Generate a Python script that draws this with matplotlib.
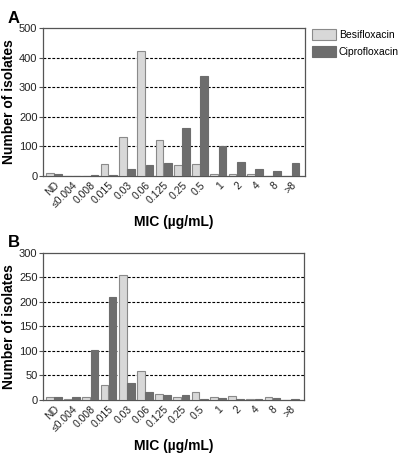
import matplotlib
matplotlib.use("Agg")
import matplotlib.pyplot as plt
import numpy as np

categories = ["ND", "≤0.004", "0.008", "0.015", "0.03", "0.06", "0.125",
              "0.25", "0.5", "1", "2", "4", "8", ">8"]
besi_A = [10, 0, 0, 41, 133, 422, 122, 38, 41, 7, 7, 6, 1, 0]
cipro_A = [8, 0, 3, 3, 22, 37, 42, 162, 336, 101, 47, 24, 15, 43]
besi_B = [6, 1, 6, 30, 254, 58, 11, 5, 15, 6, 8, 1, 5, 0]
cipro_B = [6, 5, 102, 210, 35, 16, 10, 9, 1, 4, 1, 2, 3, 1]

plt.rcParams['font.family'] = ['Liberation Sans', 'DejaVu Sans']

fig = plt.figure(figsize=(4.02, 4.58), dpi=100)
light = "#d8d8d8"
light_edge = "#8a8a8a"
dark = "#6d6d6d"
frame = "#555555"

def panel(rect, besi, cipro, ymax, ystep, legend=False):
    ax = fig.add_axes(rect)
    x = np.arange(len(categories))
    w = 0.42
    b1 = ax.bar(x - 0.225, besi, w, color=light, edgecolor=light_edge, linewidth=0.8,
                label="Besifloxacin", zorder=3)
    b2 = ax.bar(x + 0.225, cipro, w, color=dark, edgecolor=dark, linewidth=0.8,
                label="Ciprofloxacin", zorder=3)
    ax.set_xlim(-0.6, 13.75)
    ax.set_ylim(0, ymax)
    ticks = np.arange(0, ymax + 1, ystep)
    ax.set_yticks(ticks)
    for t in ticks[1:-1]:
        ax.axhline(t, color="black", linestyle=(0, (2.5, 1.5)), linewidth=0.8, zorder=1)
    ax.set_xticks(x)
    ax.set_xticklabels(categories, rotation=45, ha="right", rotation_mode="anchor",
                       fontsize=7.5, color="#222222")
    ax.tick_params(axis="x", length=0, pad=3)
    ax.tick_params(axis="y", labelsize=8, length=3, width=0.8, color=frame, pad=1,
                   labelcolor="#222222")
    for s in ax.spines.values():
        s.set_color(frame)
        s.set_linewidth(0.9)
    ax.set_ylabel("Number of isolates", fontsize=10, fontweight="bold", labelpad=2)
    ax.set_xlabel("MIC (µg/mL)", fontsize=10, fontweight="bold", labelpad=4)
    if legend:
        fig.legend(handles=[b1, b2], loc="upper left", bbox_to_anchor=(0.765, 0.945),
                   frameon=False, fontsize=7.5, handlelength=2.3, handleheight=1.2,
                   handletextpad=0.3, labelspacing=0.6, borderaxespad=0)
    return ax

panel([0.107, 0.616, 0.652, 0.323], besi_A, cipro_A, 500, 100, legend=True)
panel([0.107, 0.127, 0.650, 0.321], besi_B, cipro_B, 300, 50)

fig.text(0.02, 0.975, "A", fontsize=12, fontweight="bold", va="top")
fig.text(0.02, 0.487, "B", fontsize=12, fontweight="bold", va="top")

fig.savefig("out.png", dpi=100)
